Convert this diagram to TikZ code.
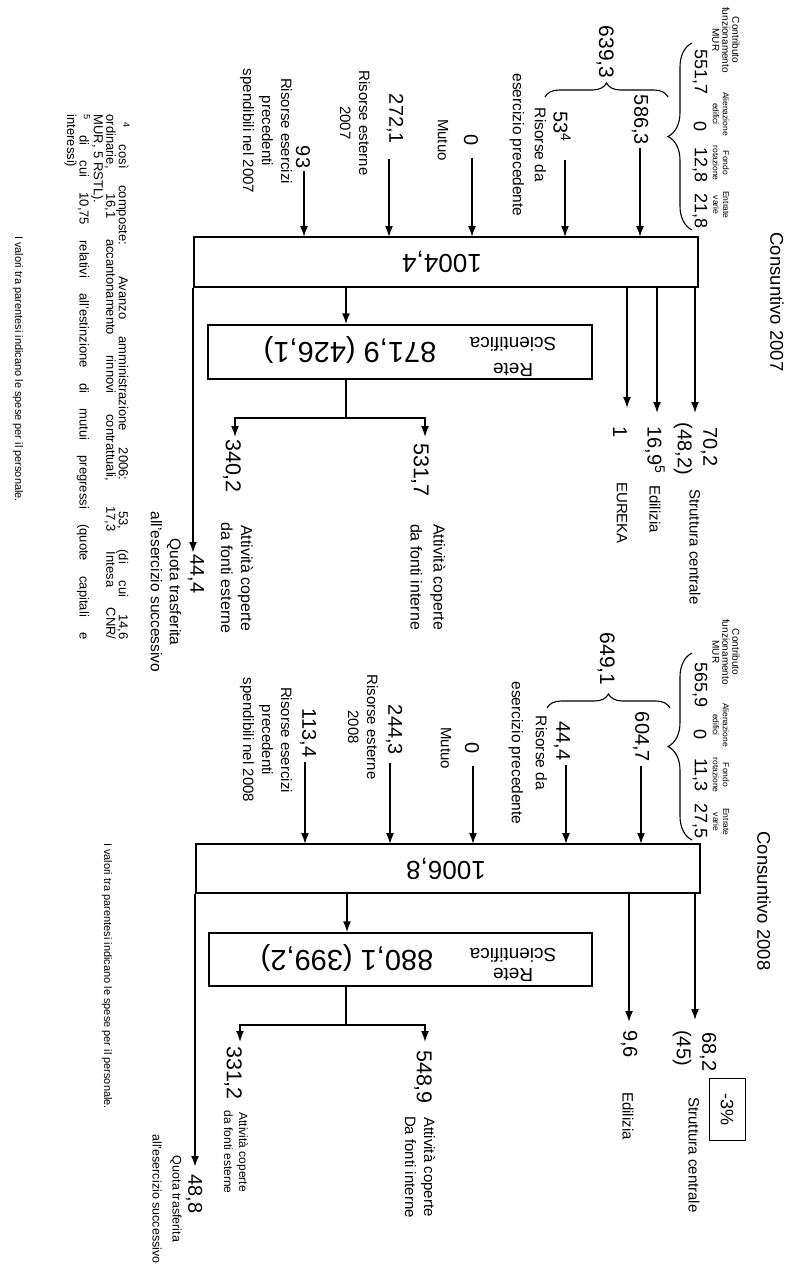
\documentclass[tikz,border=0pt]{standalone}
\usepackage{fontspec}
\setmainfont{Liberation Sans}
\usetikzlibrary{arrows.meta, decorations.pathreplacing}

\begin{document}
\begin{tikzpicture}[x=1pt, y=-1pt, line join=miter,
  every node/.style={inner sep=0pt},
  lab/.style={rotate=-90, align=center, font=\fontsize{15}{19}\selectfont},
  num/.style={rotate=-90, font=\fontsize{20}{22}\selectfont},
  bignum/.style={rotate=-90, font=\fontsize{21.5}{22}\selectfont},
  sub/.style={rotate=-90, font=\fontsize{18}{20}\selectfont},
  mini/.style={rotate=-90, align=center, font=\fontsize{8.5}{10}\selectfont},
  upside/.style={rotate=180, align=center},
  panel/.style={draw, line width=1.5pt},
  flow/.style={line width=1.6pt, -{Latex[length=11pt, width=8pt]}},
  bigflow/.style={flow, line width=2.6pt},
  grp/.style={decorate, decoration={brace, amplitude=#1}, line width=1.1pt},
]
\useasboundingbox (0,0) rectangle (789,1267);

% ---------------- Consuntivo 2007 ----------------
\node[lab, font=\fontsize{18.5}{20}\selectfont] (title7) at (777,302) {Consuntivo 2007};

\node[mini, font=\fontsize{10}{10}\selectfont] (mur7) at (726,40) {Contributo\\funzionamento\\MUR};
\node[mini] (alien7) at (721,114) {Alienazione\\edifici};
\node[mini] (fondo7) at (721,163) {Fondo\\rotazione};
\node[mini] (entr7) at (721,205) {Entrate\\varie};
\node[sub] (mur7v) at (700,72) {551,7};
\node[sub] (alien7v) at (700,127) {0};
\node[sub] (fondo7v) at (700,165) {12,8};
\node[sub] (entr7v) at (700,211) {21,8};
\draw[grp=24] (692,230) -- (692,43);
\node[num] (sum7a) at (640,120) {586,3};
\draw[grp=14] (545,97) -- (668,97);
\node[num, font=\fontsize{21}{22}\selectfont] (sum7b) at (605,52) {639,3};

\node[num] (prev7v) at (562,127) {53\textsuperscript{4}};
\node[lab, font=\fontsize{15.5}{22}\selectfont] (prev7) at (528,145) {Risorse da\\esercizio precedente};
\node[num] (loan7v) at (471,140) {0};
\node[lab] (loan7) at (443,140) {Mutuo};
\node[num] (ext7v) at (395,119) {272,1};
\node[lab] (ext7) at (355,123) {Risorse esterne\\2007};
\node[num] (res7v) at (303,157) {93};
\node[lab] (res7) at (266,131) {Risorse esercizi\\precedenti\\spendibili nel 2007};

\node[panel, minimum width=504pt, minimum height=50pt] (tot7) at (446,262) {};
\node[upside, font=\fontsize{26}{28}\selectfont] (tot7v) at (442,262) {1004,4};
\node[panel, minimum width=384pt, minimum height=54pt] (net7) at (400,352) {};
\node[upside, font=\fontsize{29}{30}\selectfont] (net7v) at (350,350) {871,9 (426,1)};
\node[upside, font=\fontsize{19}{26}\selectfont] (net7n) at (513,357) {Rete\\Scientifica};

\coordinate (f7a) at (640,237);
\coordinate (f7b) at (565,237);
\coordinate (f7c) at (472,237);
\coordinate (f7d) at (389,237);
\coordinate (f7e) at (304,237);
\draw[flow, shorten <=3pt] (sum7a.east -| f7a) -- (f7a);
\draw[flow, shorten <=18pt] (prev7v.east -| f7b) -- (f7b);
\draw[flow, shorten <=12pt] (loan7v.east -| f7c) -- (f7c);
\draw[flow, shorten <=15pt] (ext7v.east -| f7d) -- (f7d);
\draw[flow, shorten <=3pt] (res7v.east -| f7e) -- (f7e);

\coordinate (o7a) at (695,413);
\coordinate (o7b) at (657,413);
\coordinate (o7c) at (627,408);
\coordinate (o7d) at (193,553);
\draw[flow] (tot7.south -| o7a) -- (o7a);
\draw[flow] (tot7.south -| o7b) -- (o7b);
\draw[flow] (tot7.south -| o7c) -- (o7c);
\draw[bigflow] (tot7.south -| o7d) -- (o7d);
\draw[flow] (tot7.south -| 346,0) -- (net7.north -| 346,0);

\node[num] (hq7v) at (709,447) {70,2};
\node[num] (hq7p) at (683,449) {(48,2)};
\node[lab] (hq7) at (695,547) {Struttura centrale};
\node[num] (bld7v) at (655,450) {16,9\textsuperscript{5}};
\node[lab] (bld7) at (655,509) {Edilizia};
\node[num] (eu7v) at (620,432) {1};
\node[lab] (eu7) at (622,513) {EUREKA};

\coordinate (split7) at (346,418);
\coordinate (fint7a) at (425,437);
\coordinate (fest7a) at (235,437);
\draw[line width=1.6pt] (net7.south -| split7) -- (split7);
\draw[flow] (split7) -| (fint7a);
\draw[flow] (split7) -| (fest7a);
\node[bignum] (fint7v) at (420,470) {531,7};
\node[lab, font=\fontsize{16}{23}\selectfont] (fint7) at (428,577) {Attività coperte\\da fonti interne};
\node[bignum] (fest7v) at (232,466) {340,2};
\node[lab, font=\fontsize{16}{20}\selectfont] (fest7) at (237,578) {Attività coperte\\da fonti esterne};
\node[num] (carry7v) at (196,574) {44,4};
\node[lab, font=\fontsize{15.5}{19}\selectfont] (carry7) at (166,592) {Quota trasferita\\all'esercizio successivo};

\node[rotate=-90, font=\fontsize{13}{12.5}\selectfont, text width=525pt, align=justify] (fn7) at (97,377)
  {\hspace*{8pt}\textsuperscript{4} così composte: Avanzo amministrazione 2006: 53, (di cui 14,6\linebreak
   ordinarie, 16,1 accantonamento rinnovi contrattuali, 17,3 Intesa CNR/\linebreak
   MUR, 5 RSTL).\\
   \textsuperscript{5} di cui 10,75 relativi all'estinzione di mutui pregressi (quote capitali e\linebreak
   interessi)};
\node[lab, font=\fontsize{11}{13}\selectfont] (note7) at (18,369) {I valori tra parentesi indicano le spese per il personale.};

% ---------------- Consuntivo 2008 ----------------
\node[lab, font=\fontsize{18.5}{20}\selectfont] (title8) at (764,901) {Consuntivo 2008};

\node[mini, font=\fontsize{10}{10}\selectfont] (mur8) at (726,652) {Contributo\\funzionamento\\MUR};
\node[mini] (alien8) at (721,725) {Alienazione\\edifici};
\node[mini] (fondo8) at (721,775) {Fondo\\rotazione};
\node[mini] (entr8) at (721,822) {Entrate\\varie};
\node[sub] (mur8v) at (700,685) {565,9};
\node[sub] (alien8v) at (700,734) {0};
\node[sub] (fondo8v) at (700,775) {11,3};
\node[sub] (entr8v) at (700,821) {27,5};
\draw[grp=24] (692,840) -- (692,653);
\node[num] (sum8a) at (641,737) {604,7};
\draw[grp=14] (547,708) -- (670,708);
\node[num, font=\fontsize{21}{22}\selectfont] (sum8b) at (606,659) {649,1};

\node[num] (prev8v) at (562,741) {44,4};
\node[lab, font=\fontsize{15.5}{24}\selectfont] (prev8) at (528,753) {Risorse da\\esercizio precedente};
\node[num] (loan8v) at (472,748) {0};
\node[lab] (loan8) at (446,748) {Mutuo};
\node[num] (ext8v) at (394,730) {244,3};
\node[lab] (ext8) at (363,727) {Risorse esterne\\2008};
\node[num] (res8v) at (308,733) {113,4};
\node[lab] (res8) at (266,740) {Risorse esercizi\\precedenti\\spendibili nel 2008};

\node[panel, minimum width=504pt, minimum height=49pt] (tot8) at (448,868.5) {};
\node[upside, font=\fontsize{26}{28}\selectfont] (tot8v) at (446,869) {1006,8};
\node[panel, minimum width=383pt, minimum height=53pt] (net8) at (400.5,959.5) {};
\node[upside, font=\fontsize{29}{30}\selectfont] (net8v) at (347,958) {880,1 (399,2)};
\node[upside, font=\fontsize{19}{20}\selectfont] (net8n) at (513,965) {Rete\\Scientifica};

\coordinate (f8a) at (641,844);
\coordinate (f8b) at (566,844);
\coordinate (f8c) at (473,844);
\coordinate (f8d) at (390,844);
\coordinate (f8e) at (305,844);
\draw[flow, shorten <=4pt] (sum8a.east -| f8a) -- (f8a);
\draw[flow, shorten <=4pt] (prev8v.east -| f8b) -- (f8b);
\draw[flow, shorten <=12pt] (loan8v.east -| f8c) -- (f8c);
\draw[flow, shorten <=8pt] (ext8v.east -| f8d) -- (f8d);
\draw[flow, shorten <=5pt] (res8v.east -| f8e) -- (f8e);

\coordinate (o8a) at (695,1020);
\coordinate (o8b) at (629,1022);
\coordinate (o8d) at (195,1167);
\draw[flow] (tot8.south -| o8a) -- (o8a);
\draw[flow] (tot8.south -| o8b) -- (o8b);
\draw[bigflow] (tot8.south -| o8d) -- (o8d);
\draw[flow] (tot8.south -| 347,0) -- (net8.north -| 347,0);

\node[num] (hq8v) at (708,1052) {68,2};
\node[num] (hq8p) at (682,1048) {(45)};
\node[draw, line width=1pt, rotate=-90, minimum width=62pt, minimum height=36pt,
  font=\fontsize{18}{20}\selectfont] (pct8) at (727,1109) {-3\%};
\node[lab] (hq8) at (694,1155) {Struttura centrale};
\node[num] (bld8v) at (629,1044) {9,6};
\node[lab] (bld8) at (628,1116) {Edilizia};

\coordinate (split8) at (346,1025);
\coordinate (fint8a) at (425,1042);
\coordinate (fest8a) at (240,1042);
\draw[line width=1.6pt] (net8.south -| split8) -- (split8);
\draw[flow] (split8) -| (fint8a);
\draw[flow] (split8) -| (fest8a);
\node[bignum] (fint8v) at (423,1077) {548,9};
\node[lab, font=\fontsize{15}{19}\selectfont] (fint8) at (420,1167) {Attività coperte\\Da fonti interne};
\node[bignum] (fest8v) at (233,1073) {331,2};
\node[lab, font=\fontsize{12}{15}\selectfont] (fest8) at (236,1152) {Attività coperte\\da fonti esterne};
\node[num] (carry8v) at (194,1194) {48,8};
\node[lab, font=\fontsize{12.5}{20}\selectfont] (carry8) at (167,1199) {Quota trasferita\\all'esercizio successivo};

\node[lab, font=\fontsize{11}{13}\selectfont] (note8) at (107,976) {I valori tra parentesi indicano le spese per il personale.};
\end{tikzpicture}
\end{document}
